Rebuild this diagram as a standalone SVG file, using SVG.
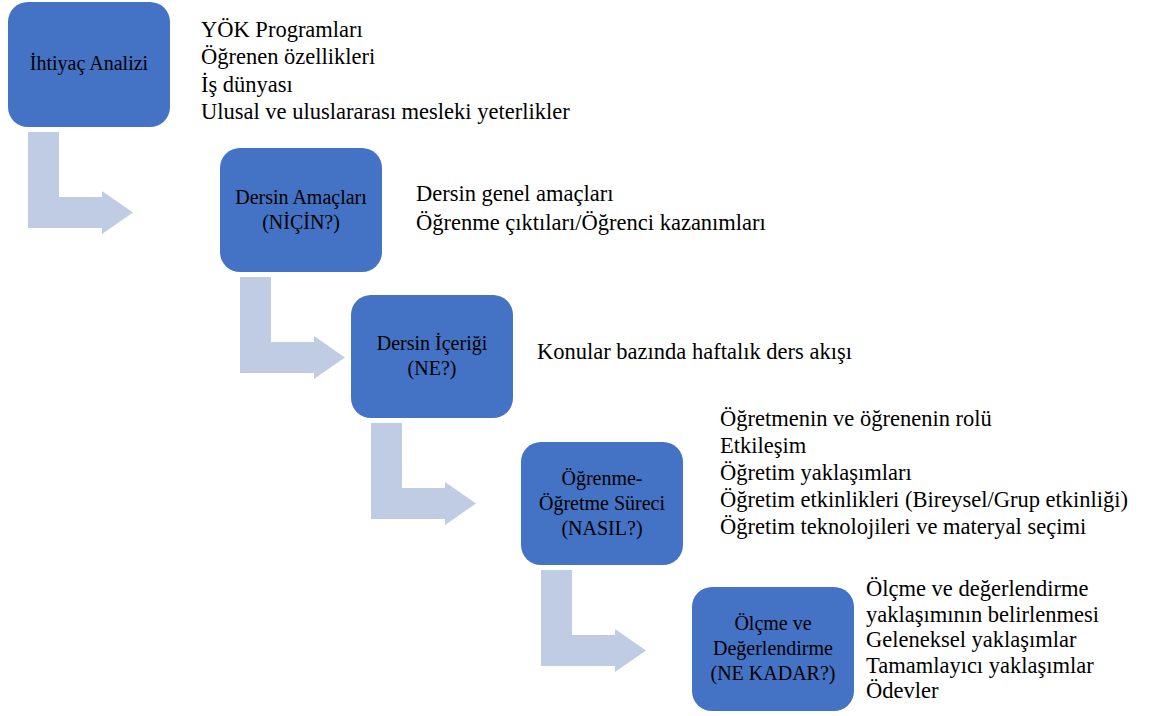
<svg xmlns="http://www.w3.org/2000/svg" width="1154" height="716" viewBox="0 0 1154 716">
<style>
.box{fill:#4472C4;}
.arrow{fill:#BFCCE4;}
text{font-family:Liberation Serif;}
.bt{font-size:20px;fill:#000;text-anchor:middle;}
.rt{font-size:22.5px;fill:#000;}
</style>
<rect width="1154" height="716" fill="#ffffff"/>
<g id="connectors">
<path class="arrow" d="M28,132 H59 V197 H102 V191 L133,212.5 L102,234 V228 H28 Z"/>
<path class="arrow" d="M240,277 H271 V342 H314 V336 L345,357.5 L314,379 V373 H240 Z"/>
<path class="arrow" d="M371,423 H402 V488 H445 V482 L476,503.5 L445,525 V519 H371 Z"/>
<path class="arrow" d="M541,570 H572 V635 H615 V629 L646,650.5 L615,672 V666 H541 Z"/>
</g>
<g id="ihtiyac-analizi">
<rect class="box" x="8" y="2" width="162" height="125" rx="20"/>
<text class="bt" x="89" y="70">İhtiyaç Analizi</text>
</g>
<g id="ihtiyac-notes">
<text class="rt" x="201" y="36.5">YÖK Programları</text>
<text class="rt" x="201" y="64">Öğrenen özellikleri</text>
<text class="rt" x="201" y="91.5">İş dünyası</text>
<text class="rt" x="201" y="119">Ulusal ve uluslararası mesleki yeterlikler</text>
</g>
<g id="dersin-amaclari">
<rect class="box" x="220" y="148" width="162" height="124" rx="20"/>
<text class="bt" x="301" y="203.5">Dersin Amaçları</text>
<text class="bt" x="301" y="228.5">(NİÇİN?)</text>
</g>
<g id="amaclar-notes">
<text class="rt" x="416" y="201">Dersin genel amaçları</text>
<text class="rt" x="416" y="230">Öğrenme çıktıları/Öğrenci kazanımları</text>
</g>
<g id="dersin-icerigi">
<rect class="box" x="351" y="295" width="162" height="123" rx="20"/>
<text class="bt" x="432" y="350">Dersin İçeriği</text>
<text class="bt" x="432" y="375">(NE?)</text>
</g>
<g id="icerik-notes">
<text class="rt" x="537" y="359">Konular bazında haftalık ders akışı</text>
</g>
<g id="ogrenme-ogretme">
<rect class="box" x="521" y="442" width="162" height="123" rx="20"/>
<text class="bt" x="602" y="485">Öğrenme-</text>
<text class="bt" x="602" y="510">Öğretme Süreci</text>
<text class="bt" x="602" y="535">(NASIL?)</text>
</g>
<g id="surec-notes">
<text class="rt" x="720" y="426">Öğretmenin ve öğrenenin rolü</text>
<text class="rt" x="720" y="453">Etkileşim</text>
<text class="rt" x="720" y="480">Öğretim yaklaşımları</text>
<text class="rt" x="720" y="507">Öğretim etkinlikleri (Bireysel/Grup etkinliği)</text>
<text class="rt" x="720" y="534">Öğretim teknolojileri ve materyal seçimi</text>
</g>
<g id="olcme-degerlendirme">
<rect class="box" x="692" y="587" width="162" height="124" rx="20"/>
<text class="bt" x="773" y="630">Ölçme ve</text>
<text class="bt" x="773" y="655">Değerlendirme</text>
<text class="bt" x="773" y="680">(NE KADAR?)</text>
</g>
<g id="olcme-notes">
<text class="rt" x="866" y="596">Ölçme ve değerlendirme</text>
<text class="rt" x="866" y="621.5">yaklaşımının belirlenmesi</text>
<text class="rt" x="866" y="647">Geleneksel yaklaşımlar</text>
<text class="rt" x="866" y="672.5">Tamamlayıcı yaklaşımlar</text>
<text class="rt" x="866" y="698">Ödevler</text>
</g>
</svg>
